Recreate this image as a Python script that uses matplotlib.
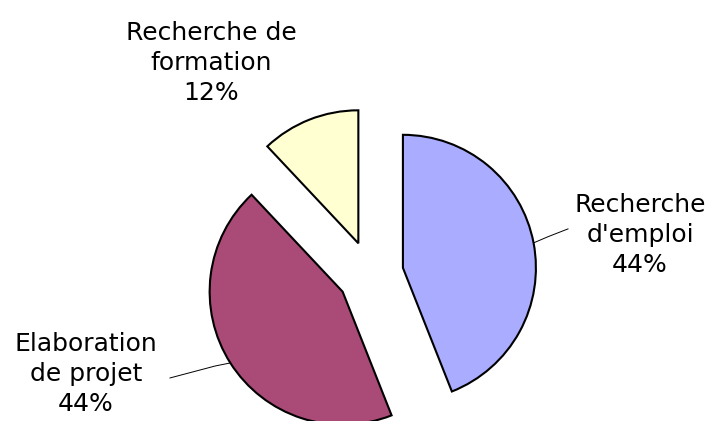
import numpy as np
import matplotlib
matplotlib.use("Agg")
import matplotlib.pyplot as plt

categories = ["Recherche\nd'emploi", "Elaboration\nde projet", "Recherche de\nformation"]
values = [44, 44, 12]
colors = ["#AAADFF", "#A94A77", "#FFFFD2"]

W, H = 712, 421
fig = plt.figure(figsize=(W / 100, H / 100), dpi=100)
ax = fig.add_axes([0, 0, 1, 1])

center = (370.5, 147)
radius = 133
explode_dist = 33
wedges, _ = ax.pie(values, colors=colors, startangle=90, counterclock=False,
                   radius=radius, center=center, explode=[explode_dist] * 3,
                   wedgeprops=dict(edgecolor="black", linewidth=1.5),
                   frame=True)
ax.set_xlim(0, W)
ax.set_ylim(0, H)
ax.set_aspect("equal")
ax.axis("off")

label_pos = [(640, 186), (86, 47), (211, 358)]
fs = 18
for w, cat, v, (lx, ly) in zip(wedges, categories, values, label_pos):
    ax.text(lx, ly, f"{cat}\n{v}%", ha="center", va="center", fontsize=fs,
            linespacing=1.3, family="DejaVu Sans")

def mid_point(w):
    ang = np.deg2rad((w.theta1 + w.theta2) / 2)
    cx, cy = w.center
    return cx + w.r * np.cos(ang), cy + w.r * np.sin(ang)

bx, by = mid_point(wedges[0])
ax.plot([bx, bx + 14, 568], [by, by + 6, by + 14], color="black", lw=0.7)
mx, my = mid_point(wedges[1])
ax.plot([mx, mx - 15, 170], [my, my - 3, my - 15], color="black", lw=0.7)

fig.savefig("out.png", dpi=100)
